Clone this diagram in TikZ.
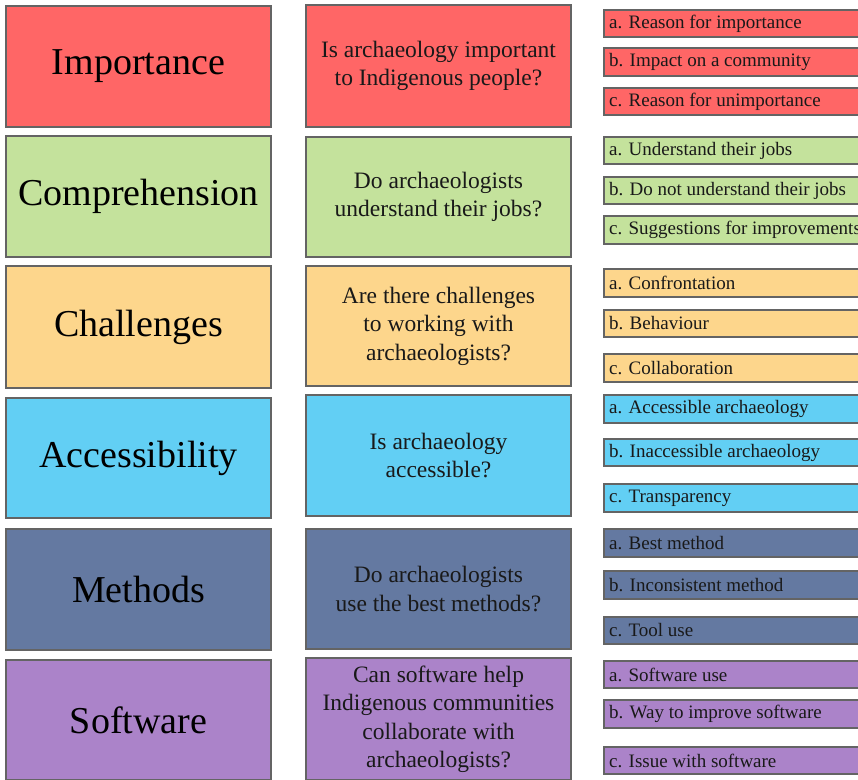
\documentclass[tikz,border=0pt]{standalone}
\usepackage{fontspec}
\setmainfont{Liberation Serif}
\definecolor{cRed}{RGB}{255,102,102}
\definecolor{cGreen}{RGB}{196,226,156}
\definecolor{cOrange}{RGB}{253,214,140}
\definecolor{cBlue}{RGB}{98,207,244}
\definecolor{cSlate}{RGB}{100,121,161}
\definecolor{cPurple}{RGB}{171,131,201}
\definecolor{cBorder}{RGB}{100,100,100}
\tikzset{
  catbox/.style={draw=cBorder, line width=2.3pt, minimum width=265pt, inner sep=0pt,
    font=\fontsize{38}{44}\selectfont, text=black},
  qbox/.style={draw=cBorder, line width=2.3pt, minimum width=265pt, inner sep=0pt,
    align=center, font=\fontsize{23.5}{28.5}\selectfont, text=black!90},
  subbox/.style={draw=cBorder, line width=2.3pt, anchor=west, minimum height=27.5pt,
    text width=262pt, inner xsep=5pt, inner ysep=0pt, align=flush left,
    font=\fontsize{19}{21}\selectfont, text=black!90}
}
\begin{document}
\begin{tikzpicture}[x=1pt,y=-1pt]
\useasboundingbox (0,0) rectangle (858,779);
\clip (0,0) rectangle (858,779);
\fill[white] (0,0) rectangle (858,779);
% left column
\node[catbox, fill=cRed,    minimum height=121pt] (L1) at (138.5,66.5) {Importance};
\node[catbox, fill=cGreen,  minimum height=121pt] (L2) at (138.5,196.5) {Comprehension};
\node[catbox, fill=cOrange, minimum height=122pt] (L3) at (138.5,327) {Challenges};
\node[catbox, fill=cBlue,   minimum height=120pt] (L4) at (138.5,458) {Accessibility};
\node[catbox, fill=cSlate,  minimum height=121pt] (L5) at (138.5,589.5) {Methods};
\node[catbox, fill=cPurple, minimum height=120pt] (L6) at (138.5,720) {Software};
% middle column
\node[qbox, fill=cRed,    minimum height=122pt] (Q1) at (438.5,66) {Is archaeology important\\to Indigenous people?};
\node[qbox, fill=cGreen,  minimum height=120pt] (Q2) at (438.5,197) {Do archaeologists\\understand their jobs?};
\node[qbox, fill=cOrange, minimum height=120pt] (Q3) at (438.5,326) {Are there challenges\\to working with\\archaeologists?};
\node[qbox, fill=cBlue,   minimum height=121pt] (Q4) at (438.5,455.5) {Is archaeology\\accessible?};
\node[qbox, fill=cSlate,  minimum height=120pt] (Q5) at (438.5,589) {Do archaeologists\\use the best methods?};
\node[qbox, fill=cPurple, minimum height=122pt] (Q6) at (438.5,719) {Can software help\\Indigenous communities\\collaborate with\\archaeologists?};
% right column
\node[subbox, fill=cRed] (S1a) at (603,23.5) {a. Reason for importance};
\node[subbox, fill=cRed] (S1b) at (603,62) {b. Impact on a community};
\node[subbox, fill=cRed] (S1c) at (603,101.5) {c. Reason for unimportance};
\node[subbox, fill=cGreen] (S2a) at (603,150.5) {a. Understand their jobs};
\node[subbox, fill=cGreen] (S2b) at (603,190.5) {b. Do not understand their jobs};
\node[subbox, fill=cGreen] (S2c) at (603,230) {c. Suggestions for improvements};
\node[subbox, fill=cOrange] (S3a) at (603,283) {a. Confrontation};
\node[subbox, fill=cOrange] (S3b) at (603,323.5) {b. Behaviour};
\node[subbox, fill=cOrange] (S3c) at (603,368) {c. Collaboration};
\node[subbox, fill=cBlue] (S4a) at (603,409) {a. Accessible archaeology};
\node[subbox, fill=cBlue] (S4b) at (603,452.5) {b. Inaccessible archaeology};
\node[subbox, fill=cBlue] (S4c) at (603,498) {c. Transparency};
\node[subbox, fill=cSlate] (S5a) at (603,543) {a. Best method};
\node[subbox, fill=cSlate] (S5b) at (603,585) {b. Inconsistent method};
\node[subbox, fill=cSlate] (S5c) at (603,630.5) {c. Tool use};
\node[subbox, fill=cPurple] (S6a) at (603,674.5) {a. Software use};
\node[subbox, fill=cPurple] (S6b) at (603,714) {b. Way to improve software};
\node[subbox, fill=cPurple] (S6c) at (603,760.5) {c. Issue with software};
\end{tikzpicture}
\end{document}
